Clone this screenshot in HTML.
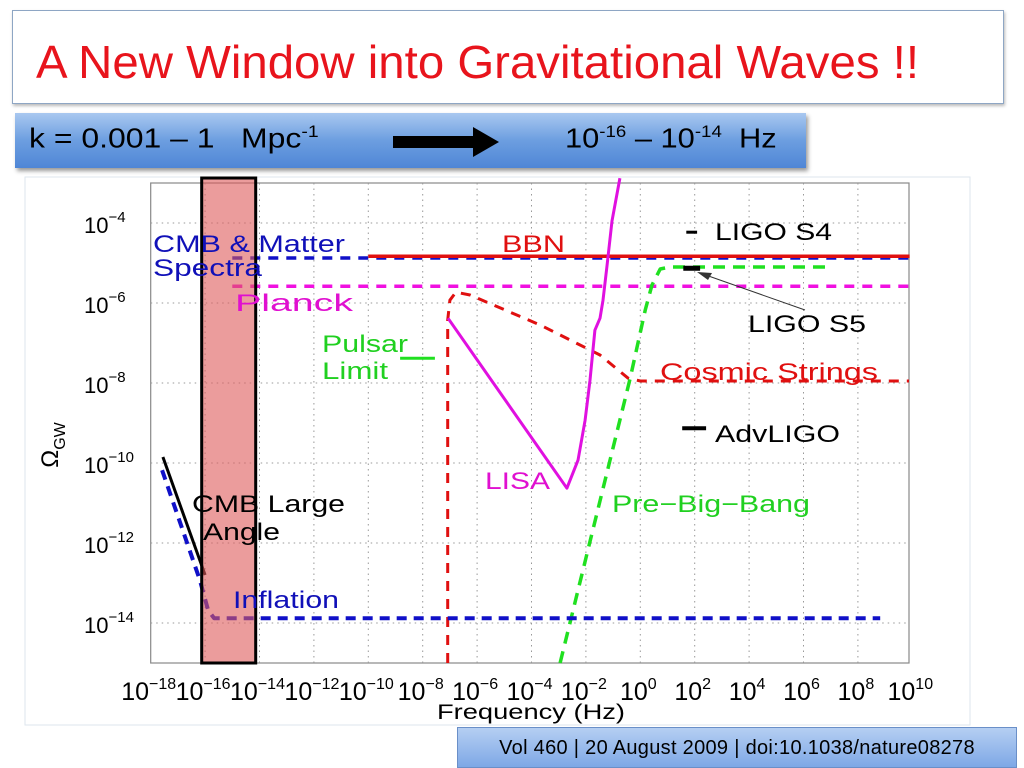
<!DOCTYPE html>
<html><head><meta charset="utf-8">
<style>
body{margin:0;width:1024px;height:768px;background:#fff;position:relative;overflow:hidden;font-family:"Liberation Sans",sans-serif}
#title{position:absolute;left:12px;top:10px;width:992px;height:94px;border:1px solid #8ea6c4;box-shadow:1px 2px 3px #bbb;box-sizing:border-box}
#title span{position:absolute;left:23px;top:24px;font-size:46px;color:#e8141c;transform-origin:0 0;transform:scaleX(1.03);white-space:nowrap}
#kbox{position:absolute;left:15px;top:113px;width:791px;height:55px;background:linear-gradient(#a9c8f0,#6c9ee0 50%,#4f86d6);box-shadow:2px 3px 4px #999;font-size:28px;color:#000}
#kbox .t{position:absolute;top:9px;white-space:nowrap;transform-origin:0 0}
#foot{position:absolute;left:457px;top:727px;width:560px;height:41px;background:linear-gradient(#b5cff2,#7ea8e6);border:1px solid #6a8fc8;box-sizing:border-box;font-size:20px;letter-spacing:0.3px;text-align:center;line-height:40px;white-space:nowrap}
#chart{position:absolute;left:0;top:0}
</style></head><body>
<div id="title"><span>A New Window into Gravitational Waves !!</span></div>
<div id="kbox">
<span class="t" style="left:14px;transform:scaleX(1.14)">k = 0.001 – 1 &nbsp;&nbsp;Mpc<sup style="font-size:17px">-1</sup></span>
<svg style="position:absolute;left:378px;top:14px" width="110" height="30"><rect x="0" y="9" width="82" height="12" fill="#000"/><polygon points="80,0 106,15 80,30" fill="#000"/></svg>
<span class="t" style="left:550px;transform:scaleX(1.1)">10<sup style="font-size:17px">-16</sup> – 10<sup style="font-size:17px">-14</sup> &nbsp;Hz</span>
</div>
<svg id="chart" width="1024" height="768"></svg>
<div id="foot">Vol 460 | 20 August 2009 | doi:10.1038/nature08278</div>
<script>
const xTicks=[-18,-16,-14,-12,-10,-8,-6,-4,-2,0,2,4,6,8,10];
const yTicks=[-4,-6,-8,-10,-12,-14];
const lisaX=[-7.07,-2.70,-2.29,-2.03,-1.85,-1.67,-1.48,-1.37,-1.22,-1.04,-0.75];
const lisaY=[-6.38,-10.63,-9.93,-8.93,-7.93,-6.68,-6.38,-5.93,-5.05,-3.95,-2.88];
const pbbX=[-2.95,-0.37,0.18,0.43,0.73,1.10,6.9];
const pbbY=[-15,-7.88,-6.18,-5.55,-5.15,-5.1,-5.1];
const csX=[-7.08,-7.08,-7.0,-6.78,-6.26,-3.68,-1.48,-0.45,0,9.88];
const csY=[-15,-6.43,-5.93,-5.73,-5.8,-6.55,-7.3,-7.88,-7.95,-7.95];
const cmbX=[-17.55,-16.0];
const cmbY=[-9.85,-12.8];
const infX=[-17.58,-16.19,-15.89,-15.67,8.82];
const infY=[-10.18,-12.93,-13.68,-13.88,-13.88];
const matterX=[-15,9.9], matterY=[-4.875,-4.875];
const bbnX=[-10,9.9], bbnY=[-4.83,-4.83];
const planckX=[-15,9.9], planckY=[-5.58,-5.58];
const pulsarX=[-8.83,-7.55], pulsarY=[-7.38,-7.38];
const s4X=[1.69,2.09], s4Y=[-4.23,-4.23];
const s5X=[1.58,2.2], s5Y=[-5.13,-5.13];
const advX=[1.54,2.42], advY=[-9.13,-9.13];
const X=v=>150.7+(v+18)*27.2;
const Y=v=>183+(-3-v)*40;
const svg=document.getElementById('chart');
const NS='http://www.w3.org/2000/svg';
function mk(t,a,txt){const e=document.createElementNS(NS,t);for(const k in a)e.setAttribute(k,a[k]);if(txt!==undefined)e.textContent=txt;svg.appendChild(e);return e;}
let e;
e=mk('rect',{x:25,y:177,width:945,height:548,fill:'#fff',stroke:'#dde6ee'});


e=mk('rect',{x:150.7,y:183,width:909-150.7,height:480,fill:'#fff',stroke:'#888','stroke-width':1.2});


xTicks.forEach(t=>{
 if(t>-18&&t<10){e=mk('line',{x1:X(t),x2:X(t),y1:183,y2:663,stroke:'#999','stroke-dasharray':'1.5,4'});
 
 }
 const tx=mk('text',{x:X(t)-2,y:700,'font-size':25,'text-anchor':'middle'});
 
 
 tx.innerHTML='10<tspan dy="-11" font-size="16">'+(t<0?'−'+(-t):t)+'</tspan>';
});
yTicks.forEach(t=>{
 e=mk('line',{x1:150.7,x2:909,y1:Y(t),y2:Y(t),stroke:'#999','stroke-dasharray':'1.5,4'});
 
 
 const tx=mk('text',{x:84,y:Y(t)+10,'font-size':22});
 
 
 tx.innerHTML='10<tspan dy="-11" font-size="15">−'+(-t)+'</tspan>';
});
function line(xs,ys,col,w,dash,name){
 const p=xs.map((v,i)=>X(v).toFixed(1)+','+Y(ys[i]).toFixed(1)).join(' ');
 const a={points:p,fill:'none',stroke:col,'stroke-width':w,'stroke-linejoin':'round'};
 if(dash)a['stroke-dasharray']=dash;
 const l=mk('polyline',a);
 
 
}
line(matterX,matterY,'#1010c8',3.5,'10,8','cmb-matter-line');
line(bbnX,bbnY,'#e01010',3.5,null,'bbn-line');
line(planckX,planckY,'#f010e0',3.5,'10,8','planck-line');
line(csX,csY,'#e01010',3,'10,8','cosmic-strings-line');
line(lisaX,lisaY,'#e010e0',3,null,'lisa-line');
line(pbbX,pbbY,'#20e020',3.5,'12,8','pre-big-bang-line');
line(infX,infY,'#1010c8',4,'10,7','inflation-line');
line(cmbX,cmbY,'#000',3,null,'cmb-large-angle-line');
line(pulsarX,pulsarY,'#20e020',3,null,'pulsar-limit-line');
line(s4X,s4Y,'#000',3,null,'ligo-s4-mark');
line(s5X,s5Y,'#000',5,null,'ligo-s5-mark');
line(advX,advY,'#000',4,null,'advligo-mark');
e=mk('line',{x1:805,y1:310,x2:700,y2:273,stroke:'#333','stroke-width':1});


e=mk('polygon',{points:'697,272 712,273 708,280',fill:'#333'});


e=mk('rect',{x:201.7,y:178,width:54,height:485,fill:'rgba(222,90,90,0.6)',stroke:'#000','stroke-width':3});


const labels=[
['CMB & Matter',153,252,'#1010b8','cmb-matter-label',192],['Spectra',153,276,'#1010b8','spectra-label',109],
['BBN',502,252,'#e01010','bbn-label',63],['LIGO S4',715,240,'#000','ligo-s4-label',117],
['Planck',235,311,'#e010d0','planck-label',118],['LIGO S5',748,332,'#000','ligo-s5-label',118],
['Pulsar',322,352,'#20d020','pulsar-label',86],['Limit',322,379,'#20d020','limit-label',66],
['Cosmic  Strings',660,380,'#e01010','cosmic-strings-label',218],['AdvLIGO',715,442,'#000','advligo-label',125],
['LISA',485,489,'#e010d0','lisa-label',65],['CMB Large',192,512,'#000','cmb-large-label',153],
['Angle',203,540,'#000','angle-label',77],['Pre−Big−Bang',612,512,'#20d020','pre-big-bang-label',198],
['Inflation',233,608,'#1010b8','inflation-label',106]];
labels.forEach(l=>{
 const t=mk('text',{x:l[1],y:l[2],fill:l[3],'font-size':24,'xml:space':'preserve',textLength:l[5],lengthAdjust:'spacingAndGlyphs'},l[0]);
 
 
});
e=mk('text',{x:437,y:719,'font-size':21,textLength:188,lengthAdjust:'spacingAndGlyphs'},'Frequency (Hz)');


e=mk('text',{x:0,y:0,'font-size':24,transform:'translate(58,445) rotate(-90)','text-anchor':'middle'});
e.innerHTML='Ω<tspan dy="7" font-size="16">GW</tspan>';


</script>
</body></html>
